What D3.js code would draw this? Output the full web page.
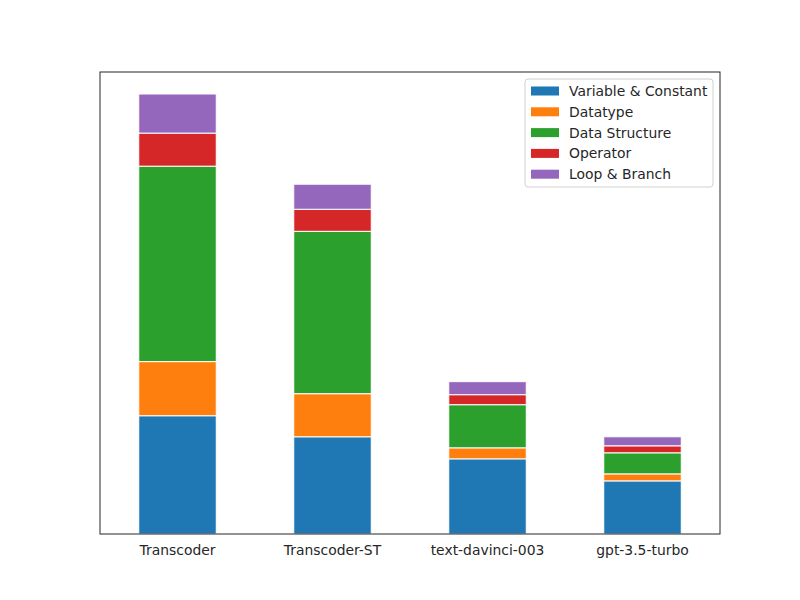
<!DOCTYPE html>
<html>
<head>
<meta charset="utf-8">
<script src="https://cdn.jsdelivr.net/npm/d3@7"></script>
<style>
  body { margin: 0; background: #fff; }
  text { font-family: "DejaVu Sans", sans-serif; }
</style>
</head>
<body>
<div id="chart"></div>
<script>
const models = ['Transcoder', 'Transcoder-ST', 'text-davinci-003', 'gpt-3.5-turbo'];
const errorTypes = ['Variable & Constant', 'Datatype', 'Data Structure', 'Operator', 'Loop & Branch'];
const colors = ['#1f77b4', '#ff7f0e', '#2ca02c', '#d62728', '#9467bd'];

// counts per error type, one value per model
const variableConstant = [118, 97, 75, 53];
const datatype = [54, 43, 11, 7];
const dataStructure = [195, 162, 43, 21];
const operator = [33, 22, 10, 7];
const loopBranch = [39, 25, 13, 9];

const series = [variableConstant, datatype, dataStructure, operator, loopBranch];

const margin = { top: 72, right: 80, bottom: 66, left: 100 };
const w = 800, h = 600;
const width = w - margin.left - margin.right;
const height = h - margin.top - margin.bottom;

const svg = d3.select('#chart').append('svg')
  .attr('width', w)
  .attr('height', h);

const plot = svg.append('g')
  .attr('transform', 'translate(' + margin.left + ',' + margin.top + ')');

const table = models.map((m, i) => {
  const row = { model: m };
  errorTypes.forEach((t, j) => { row[t] = series[j][i]; });
  return row;
});

const stack = d3.stack().keys(errorTypes);
const layers = stack(table);

const maxTotal = d3.max(layers[layers.length - 1], d => d[1]);

const x = d3.scaleBand()
  .domain(models)
  .range([0, width])
  .paddingInner(0.5)
  .paddingOuter(0.25);

const y = d3.scaleLinear()
  .domain([0, maxTotal * 1.05])
  .range([height, 0]);

plot.selectAll('.layer')
  .data(layers)
  .enter().append('g')
  .attr('class', 'layer')
  .attr('fill', (d, i) => colors[i])
  .selectAll('rect')
  .data(d => d)
  .enter().append('rect')
  .attr('x', d => x(d.data.model))
  .attr('y', d => y(d[1]))
  .attr('width', x.bandwidth())
  .attr('height', d => y(d[0]) - y(d[1]))
  .attr('stroke', '#fff')
  .attr('stroke-width', 1);

// frame
plot.append('rect')
  .attr('width', width)
  .attr('height', height)
  .attr('fill', 'none')
  .attr('stroke', '#262626')
  .attr('stroke-width', 1);

// x labels, no ticks
const xAxis = plot.append('g')
  .attr('transform', 'translate(0,' + height + ')')
  .call(d3.axisBottom(x).tickSize(0).tickPadding(11));
xAxis.select('.domain').remove();
xAxis.selectAll('text')
  .attr('font-size', '13.9px')
  .attr('fill', '#262626')
  .style('font-family', '"DejaVu Sans", sans-serif');

// legend
const legend = svg.append('g')
  .attr('transform', 'translate(525,79)');
legend.append('rect')
  .attr('width', 188)
  .attr('height', 108)
  .attr('rx', 3)
  .attr('fill', '#fff')
  .attr('fill-opacity', 0.8)
  .attr('stroke', '#d0d0d0');

errorTypes.forEach((t, i) => {
  const g = legend.append('g')
    .attr('transform', 'translate(6,' + (6 + i * 20.8) + ')');
  g.append('rect')
    .attr('width', 28)
    .attr('height', 9)
    .attr('y', 1.5)
    .attr('fill', colors[i]);
  g.append('text')
    .attr('x', 38)
    .attr('y', 11)
    .attr('font-size', '13.9px')
    .attr('fill', '#262626')
    .text(t);
});
</script>
</body>
</html>
